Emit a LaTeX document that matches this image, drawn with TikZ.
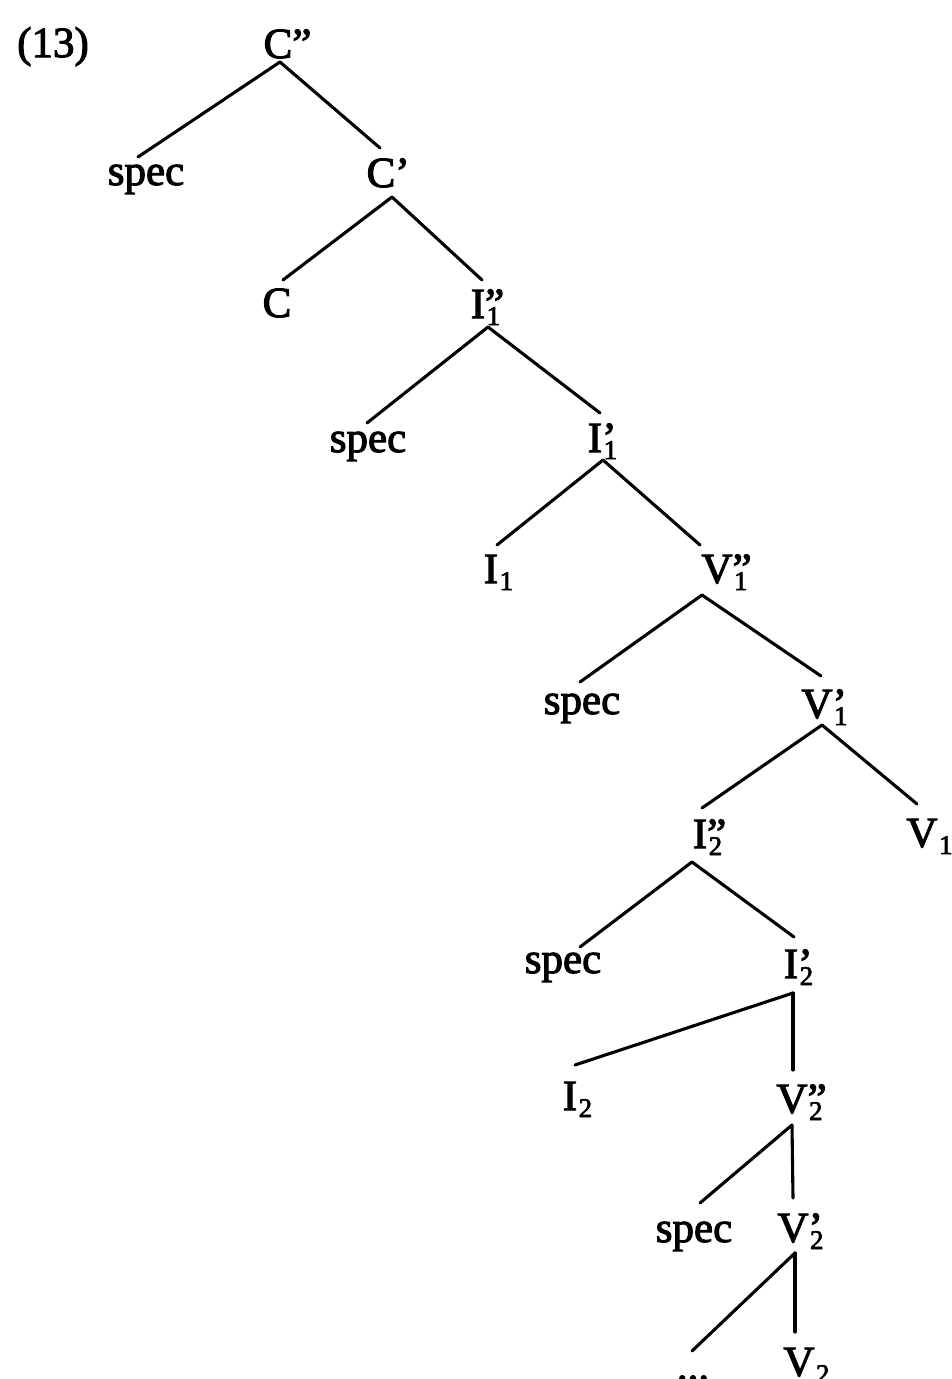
\documentclass[tikz,border=0pt]{standalone}
\usepackage{fontspec}
\setmainfont{Liberation Serif}[FakeBold=2.5]
\newcommand{\lbl}[3]{#1\rlap{#2}\rlap{\hspace{1.5pt}\raisebox{-7pt}{\fontsize{27}{27}\selectfont #3}}}
\begin{document}
\begin{tikzpicture}[x=1pt,y=-1pt,
  lab/.style={inner sep=0pt,anchor=base,font=\fontsize{43}{43}\selectfont},
  br/.style={line width=3.1pt,line cap=round}]
\useasboundingbox (0,0) rectangle (952,1379);
\fill[white] (0,0) rectangle (952,1379);
\clip (0,0) rectangle (952,1379);

\node[lab,anchor=base west] (n13) at (17,57) {(13)};
\node[lab] (Cpp)   at (278,58)   {\lbl{C}{”}{}};
\node[lab] (spec1) at (146,185)  {spec};
\node[lab] (Cp)    at (381,187)  {\lbl{C}{’}{}};
\node[lab] (C)     at (277,317)  {C};
\node[lab] (I1pp)  at (478,318)  {\lbl{I}{”}{1}};
\node[lab] (spec2) at (368,452)  {spec};
\node[lab] (I1p)   at (595,452)  {\lbl{I}{’}{1}};
\node[lab] (I1)    at (491,583)  {\lbl{I}{}{1}};
\node[lab] (V1pp)  at (717,583)  {\lbl{V}{”}{1}};
\node[lab] (spec3) at (582,714)  {spec};
\node[lab] (V1p)   at (817,718)  {\lbl{V}{’}{1}};
\node[lab] (I2pp)  at (700,848)  {\lbl{I}{”}{2}};
\node[lab] (V1)    at (922,847)  {\lbl{V}{}{1}};
\node[lab] (spec4) at (563,973)  {spec};
\node[lab] (I2p)   at (791,978)  {\lbl{I}{’}{2}};
\node[lab] (I2)    at (570,1110) {\lbl{I}{}{2}};
\node[lab] (V2pp)  at (792,1113) {\lbl{V}{”}{2}};
\node[lab] (spec5) at (694,1242) {spec};
\node[lab] (V2p)   at (793,1242) {\lbl{V}{’}{2}};
\node[lab] (dots)  at (693,1380) {...};
\node[lab] (V2)    at (799,1376) {\lbl{V}{}{2}};

\draw[br] ([shift={(2,4)}]Cpp.base) -- ([shift={(-8,-28)}]spec1.base);
\draw[br] ([shift={(2,4)}]Cpp.base) -- ([shift={(-1,-39)}]Cp.base);
\draw[br] ([shift={(11,10)}]Cp.base) -- ([shift={(6,-37)}]C.base);
\draw[br] ([shift={(11,10)}]Cp.base) -- ([shift={(4,-38)}]I1pp.base);
\draw[br] ([shift={(10,9)}]I1pp.base) -- ([shift={(-1,-29)}]spec2.base);
\draw[br] ([shift={(10,9)}]I1pp.base) -- ([shift={(5,-39)}]I1p.base);
\draw[br] ([shift={(8,8)}]I1p.base) -- ([shift={(6,-38)}]I1.base);
\draw[br] ([shift={(8,8)}]I1p.base) -- ([shift={(-17,-38)}]V1pp.base);
\draw[br] ([shift={(-15,12)}]V1pp.base) -- ([shift={(-2,-32)}]spec3.base);
\draw[br] ([shift={(-15,12)}]V1pp.base) -- ([shift={(4,-42)}]V1p.base);
\draw[br] ([shift={(5,7)}]V1p.base) -- ([shift={(2,-40)}]I2pp.base);
\draw[br] ([shift={(5,7)}]V1p.base) -- ([shift={(-5,-43)}]V1.base);
\draw[br] ([shift={(-8,14)}]I2pp.base) -- ([shift={(17,-26)}]spec4.base);
\draw[br] ([shift={(-8,14)}]I2pp.base) -- ([shift={(3,-41)}]I2p.base);
\draw[br] ([shift={(2,15)}]I2p.base) -- ([shift={(5,-45)}]I2.base);
\draw[br] ([shift={(2,15)}]I2p.base) -- ([shift={(1,-43)}]V2pp.base);
\draw[br] ([shift={(0,12)}]V2pp.base) -- ([shift={(6,-39)}]spec5.base);
\draw[br] ([shift={(0,12)}]V2pp.base) -- ([shift={(0,-44)}]V2p.base);
\draw[br] ([shift={(2,11)}]V2p.base) -- ([shift={(-1,-29)}]dots.base);
\draw[br] ([shift={(2,11)}]V2p.base) -- ([shift={(-4,-44)}]V2.base);
\end{tikzpicture}
\end{document}
